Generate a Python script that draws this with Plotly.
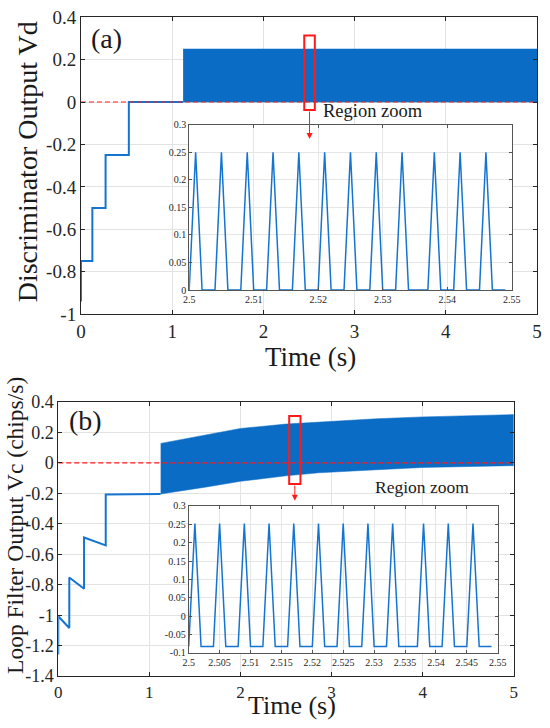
import plotly.graph_objects as go

# ---------------- panel (a): discriminator output Vd ----------------
t_step_a = [0, 0, 0.125, 0.125, 0.27, 0.27, 0.525, 0.525, 1.12]
vd_step = [-0.94, -0.75, -0.75, -0.5, -0.5, -0.25, -0.25, 0, 0]

# after lock the output oscillates too fast to resolve -> drawn as its envelope
t_band_a = [1.12, 5.0]
vd_upper = [0.25, 0.25]
vd_lower = [0, 0]

# zoomed window 2.5 - 2.55 s (same sample times for both insets)
t_zoom = [2.500, 2.501, 2.502, 2.504, 2.505, 2.506, 2.508, 2.509, 2.510,
          2.512, 2.513, 2.514, 2.516, 2.517, 2.518, 2.520, 2.521, 2.522,
          2.524, 2.525, 2.526, 2.528, 2.529, 2.530, 2.532, 2.533, 2.534,
          2.537, 2.538, 2.539, 2.541, 2.542, 2.543, 2.545, 2.546, 2.547,
          2.549]
vd_zoom = [0, 0.25, 0, 0, 0.25, 0, 0, 0.25, 0, 0, 0.25, 0, 0, 0.25, 0,
           0, 0.25, 0, 0, 0.25, 0, 0, 0.25, 0, 0, 0.25, 0, 0, 0.25, 0,
           0, 0.25, 0, 0, 0.25, 0, 0]

# ---------------- panel (b): loop filter output Vc ----------------
t_step_b = [0, 0, 0.121, 0.121, 0.283, 0.283, 0.521, 0.521, 1.124]
vc_step = [-1.258, -1.007, -1.084, -0.752, -0.826, -0.49, -0.542, -0.207, -0.204]

t_band_b = [1.124, 1.32, 1.61, 2.0, 2.5, 2.86, 3.5, 4.0, 4.5, 5.0]
vc_upper = [0.128, 0.149, 0.184, 0.226, 0.255, 0.269, 0.29, 0.302, 0.311, 0.317]
vc_lower = [-0.204, -0.186, -0.16, -0.121, -0.085, -0.065, -0.045, -0.03, -0.023, -0.018]

vc_zoom = [-0.083, 0.252, -0.083, -0.083, 0.252, -0.083, -0.083, 0.252, -0.083,
           -0.083, 0.252, -0.083, -0.083, 0.252, -0.083, -0.083, 0.252, -0.083,
           -0.083, 0.252, -0.083, -0.083, 0.252, -0.083, -0.083, 0.252, -0.083,
           -0.083, 0.252, -0.083, -0.083, 0.252, -0.083, -0.083, 0.252, -0.083,
           -0.083]

# ---------------- tick values / labels ----------------
time_ticks = [0, 1, 2, 3, 4, 5]
time_labels = ['0', '1', '2', '3', '4', '5']
vd_ticks = [-1, -0.8, -0.6, -0.4, -0.2, 0, 0.2, 0.4]
vd_labels = ['-1', '-0.8', '-0.6', '-0.4', '-0.2', '0', '0.2', '0.4']
vc_ticks = [-1.4, -1.2, -1, -0.8, -0.6, -0.4, -0.2, 0, 0.2, 0.4]
vc_labels = ['-1.4', '-1.2', '-1', '-0.8', '-0.6', '-0.4', '-0.2', '0', '0.2', '0.4']

zoom_a_xticks = [2.5, 2.51, 2.52, 2.53, 2.54, 2.55]
zoom_a_xlabels = ['2.5', '2.51', '2.52', '2.53', '2.54', '2.55']
zoom_a_yticks = [0, 0.05, 0.1, 0.15, 0.2, 0.25, 0.3]
zoom_a_ylabels = ['0', '0.05', '0.1', '0.15', '0.2', '0.25', '0.3']

zoom_b_xticks = [2.5, 2.505, 2.51, 2.515, 2.52, 2.525, 2.53, 2.535, 2.54, 2.545, 2.55]
zoom_b_xlabels = ['2.5', '2.505', '2.51', '2.515', '2.52', '2.525', '2.53',
                  '2.535', '2.54', '2.545', '2.55']
zoom_b_yticks = [-0.1, -0.05, 0, 0.05, 0.1, 0.15, 0.2, 0.25, 0.3]
zoom_b_ylabels = ['-0.1', '-0.05', '0', '0.05', '0.1', '0.15', '0.2', '0.25', '0.3']

BLUE = '#0b6cc5'
LINE_BLUE = '#1574d0'
RED = '#ff1a1a'
AXC = '#262626'
FONT = 'Liberation Serif'

fig = go.Figure()

# panel (a)
fig.add_trace(go.Scatter(x=t_band_a + t_band_a[::-1], y=vd_upper + vd_lower[::-1],
                         fill='toself', fillcolor=BLUE, mode='lines',
                         line=dict(color=BLUE, width=0.5), xaxis='x', yaxis='y'))
fig.add_trace(go.Scatter(x=t_step_a, y=vd_step, mode='lines',
                         line=dict(color=LINE_BLUE, width=2), xaxis='x', yaxis='y'))
fig.add_trace(go.Scatter(x=[0, 5], y=[0, 0], mode='lines',
                         line=dict(color=RED, width=1.2, dash='5px,3px'), xaxis='x', yaxis='y'))
fig.add_trace(go.Scatter(x=t_zoom, y=vd_zoom, mode='lines',
                         line=dict(color=LINE_BLUE, width=1.5), xaxis='x2', yaxis='y2'))

# panel (b)
fig.add_trace(go.Scatter(x=t_band_b + t_band_b[::-1], y=vc_upper + vc_lower[::-1],
                         fill='toself', fillcolor=BLUE, mode='lines',
                         line=dict(color=BLUE, width=0.5), xaxis='x3', yaxis='y3'))
fig.add_trace(go.Scatter(x=t_step_b, y=vc_step, mode='lines',
                         line=dict(color=LINE_BLUE, width=2), xaxis='x3', yaxis='y3'))
fig.add_trace(go.Scatter(x=[0, 5], y=[0, 0], mode='lines',
                         line=dict(color=RED, width=1.2, dash='5px,3px'), xaxis='x3', yaxis='y3'))
fig.add_trace(go.Scatter(x=t_zoom, y=vc_zoom, mode='lines',
                         line=dict(color=LINE_BLUE, width=1.5), xaxis='x4', yaxis='y4'))


def ax(domain, rng, tv, tt, anchor, size, ticklen=4, grid='#e3e3e3', col=AXC):
    return dict(domain=domain, range=rng, tickvals=tv, ticktext=tt, anchor=anchor,
                showline=True, linecolor=col, linewidth=1, mirror='ticks',
                ticks='inside', ticklen=ticklen, tickcolor=col,
                showgrid=True, gridcolor=grid, gridwidth=1, zeroline=False,
                tickfont=dict(family=FONT, size=size, color=AXC))


fig.update_layout(
    xaxis=ax([0.1401, 0.9926], [0, 5], time_ticks, time_labels, 'y', 19),
    yaxis=ax([0.5698, 0.9899], [-1, 0.4], vd_ticks, vd_labels, 'x', 19),
    xaxis2=ax([0.3424, 0.9453], [2.5, 2.55], zoom_a_xticks, zoom_a_xlabels, 'y2', 10, 3, '#e6e6e6', '#555555'),
    yaxis2=ax([0.6038, 0.8379], [0, 0.3], zoom_a_yticks, zoom_a_ylabels, 'x2', 10, 3, '#e6e6e6', '#555555'),
    xaxis3=ax([0.0977, 0.9490], [0, 5], time_ticks, time_labels, 'y3', 17),
    yaxis3=ax([0.0578, 0.4456], [-1.4, 0.4], vc_ticks, vc_labels, 'x3', 18),
    xaxis4=ax([0.3415, 0.9191], [2.5, 2.55], zoom_b_xticks, zoom_b_xlabels, 'y4', 10, 3, '#e6e6e6', '#555555'),
    yaxis4=ax([0.0908, 0.2985], [-0.1, 0.3], zoom_b_yticks, zoom_b_ylabels, 'x4', 10, 3, '#e6e6e6', '#555555'),
    width=550, height=728, autosize=False,
    margin=dict(l=0, r=0, t=0, b=0),
    paper_bgcolor='white', plot_bgcolor='white',
    showlegend=False,
    font=dict(family=FONT, color='#1a1a1a'),
)

# red boxes marking the zoomed window
fig.add_shape(type='rect', xref='x', yref='y', x0=2.448, x1=2.564, y0=-0.038, y1=0.313,
              line=dict(color=RED, width=2))
fig.add_shape(type='rect', xref='x3', yref='y3', x0=2.535, x1=2.659, y0=-0.139, y1=0.308,
              line=dict(color=RED, width=2))
fig.add_annotation(x=2.506, y=-0.174, ax=2.506, ay=-0.038, xref='x', yref='y',
                   axref='x', ayref='y', showarrow=True, arrowhead=2, arrowsize=1.2,
                   arrowwidth=1, arrowcolor=RED, text='')
fig.add_annotation(x=2.597, y=-0.248, ax=2.597, ay=-0.139, xref='x3', yref='y3',
                   axref='x3', ayref='y3', showarrow=True, arrowhead=2, arrowsize=1.2,
                   arrowwidth=1, arrowcolor=RED, text='')

# titles and labels
labels = [
    ('Discriminator Output Vd', 0.0397, 0.7849, 28, -90),
    ('Time (s)', 0.5689, 0.5095, 27, 0),
    ('(a)', 0.1880, 0.9595, 28, 0),
    ('Region zoom', 0.6853, 0.8566, 18.5, 0),
    ('Loop Filter Output Vc (chips/s)', 0.0172, 0.2705, 23.5, -90),
    ('Time (s)', 0.5342, 0.0158, 26, 0),
    ('(b)', 0.1491, 0.4190, 28, 0),
    ('Region zoom', 0.7785, 0.3260, 17.5, 0),
]
for txt, x, y, size, ang in labels:
    fig.add_annotation(text=txt, x=x, y=y, xref='paper', yref='paper', showarrow=False,
                       xanchor='center', yanchor='middle', textangle=ang,
                       font=dict(family=FONT, size=size, color='#1a1a1a'))

# the figure is exactly the window size, so drop the default body margin
fig.write_html("out.html", config={'displayModeBar': False},
               post_script="document.body.style.margin='0';document.body.style.overflow='hidden';")
